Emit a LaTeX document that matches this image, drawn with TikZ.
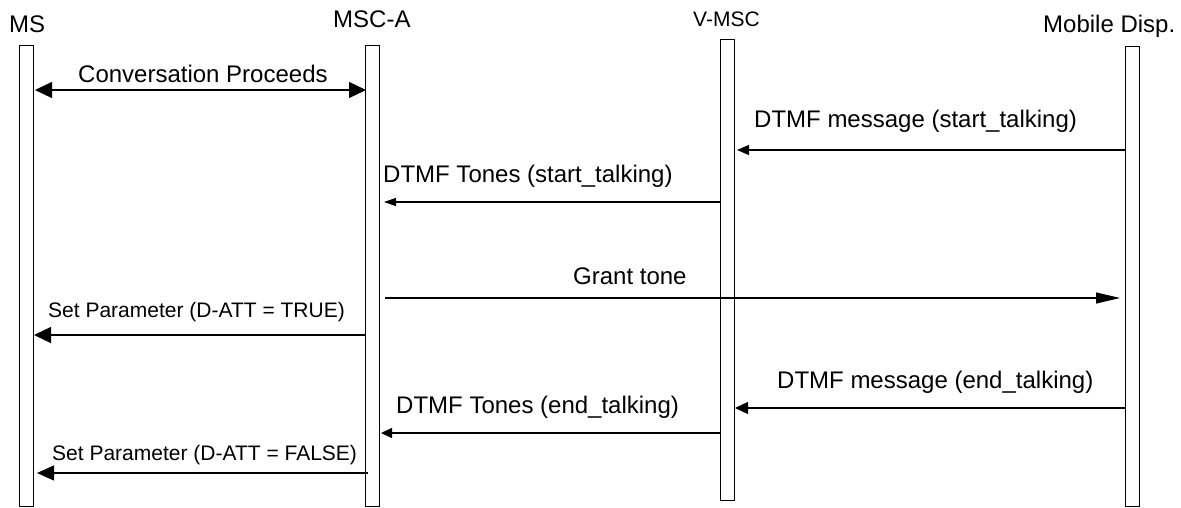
\documentclass[tikz,border=0pt]{standalone}
\usepackage{fontspec}
\setmainfont{Liberation Sans}
\usetikzlibrary{arrows.meta}
\begin{document}
\begin{tikzpicture}[x=1pt,y=-1pt,
  life/.style={draw=black,line width=1.2pt,fill=white},
  msg/.style={line width=1.2pt},
  lbl/.style={anchor=base west,inner sep=0pt,font=\fontsize{24}{28}\selectfont},
  slbl/.style={anchor=base west,inner sep=0pt,font=\fontsize{21}{25}\selectfont},
  hlbl/.style={anchor=base west,inner sep=0pt,font=\fontsize{24}{28}\selectfont},
  vlbl/.style={anchor=base west,inner sep=0pt,font=\fontsize{21}{25}\selectfont}]
\useasboundingbox (0,0) rectangle (1181,507);
% lifelines
\node[life,minimum width=14pt,minimum height=461pt,inner sep=0pt,anchor=north west] (ms) at (19,45) {};
\node[life,minimum width=14pt,minimum height=461pt,inner sep=0pt,anchor=north west] (msca) at (365,45) {};
\node[life,minimum width=14pt,minimum height=461pt,inner sep=0pt,anchor=north west] (vmsc) at (720,39) {};
\node[life,minimum width=14pt,minimum height=460pt,inner sep=0pt,anchor=north west] (md) at (1125,46) {};
% headers
\node[hlbl] (hms) at (9,32) {MS};
\node[hlbl] (hmsca) at (333,27) {MSC-A};
\node[vlbl] (hvmsc) at (693,26) {V-MSC};
\node[hlbl] (hmd) at (1043,32) {Mobile Disp.};
% message endpoints
\coordinate (a1) at (35,90);   \coordinate (b1) at (366,90);
\coordinate (a2) at (1125,150); \coordinate (b2) at (737,150);
\coordinate (a3) at (720,202); \coordinate (b3) at (384,202);
\coordinate (a4) at (385,298); \coordinate (b4) at (1120,298);
\coordinate (a5) at (365,335); \coordinate (b5) at (34,335);
\coordinate (a6) at (1125,408); \coordinate (b6) at (735,408);
\coordinate (a7) at (720,433); \coordinate (b7) at (381,433);
\coordinate (a8) at (368,473); \coordinate (b8) at (37,473);
% messages
\draw[msg,{Triangle[length=17pt,width=16pt]}-{Triangle[length=17pt,width=16pt]}] (a1) -- (b1);
\draw[msg,-{Triangle[length=12pt,width=10pt]}] (a2) -- (b2);
\draw[msg,-{Triangle[length=12pt,width=8pt]}] (a3) -- (b3);
\draw[msg,-{Triangle[length=24pt,width=11pt]}] (a4) -- (b4);
\draw[msg,-{Triangle[length=17pt,width=16pt]}] (a5) -- (b5);
\draw[msg,-{Triangle[length=13pt,width=12pt]}] (a6) -- (b6);
\draw[msg,-{Triangle[length=11pt,width=10pt]}] (a7) -- (b7);
\draw[msg,-{Triangle[length=17pt,width=15pt]}] (a8) -- (b8);
% labels
\node[lbl] (l1) at (78,82) {Conversation Proceeds};
\node[lbl] (l2) at (754,127) {DTMF message (start\_talking)};
\node[lbl] (l3) at (383,182) {DTMF Tones (start\_talking)};
\node[lbl] (l4) at (573,284) {Grant tone};
\node[slbl] (l5) at (48,317) {Set Parameter (D-ATT = TRUE)};
\node[lbl] (l6) at (777,388) {DTMF message (end\_talking)};
\node[lbl] (l7) at (396,413) {DTMF Tones (end\_talking)};
\node[slbl] (l8) at (52,460) {Set Parameter (D-ATT = FALSE)};
\end{tikzpicture}
\end{document}
